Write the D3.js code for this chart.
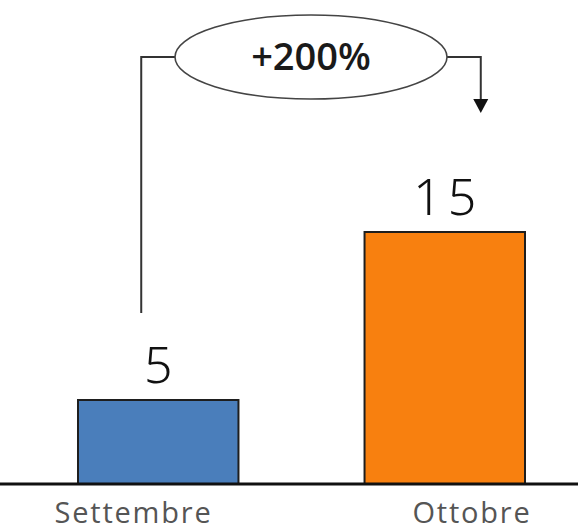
<!DOCTYPE html>
<html>
<head>
<meta charset="utf-8">
<script src="https://cdn.jsdelivr.net/npm/d3@7"></script>
<style>
  html, body { margin: 0; padding: 0; background: #fff; }
  svg { display: block; }
</style>
</head>
<body>
<svg id="chart" width="578" height="530"></svg>
<script>
// Monthly totals
const categories = ["Settembre", "Ottobre"];
const values = [5, 15];
const barColors = ["#4a7ebb", "#f8800f"];

const W = 578, H = 530;
const baseY = 484;

const svg = d3.select("#chart");

const x = d3.scaleBand()
  .domain(categories)
  .range([78, 525])
  .paddingInner(0.44)
  .paddingOuter(0);

const y = d3.scaleLinear()
  .domain([0, 25])
  .range([baseY, 64]);

// Category labels sit in their own, wider slots
const xLabel = d3.scalePoint()
  .domain(categories)
  .range([132.5, 471]);

// Bars
svg.selectAll("rect.bar")
  .data(categories)
  .join("rect")
  .attr("class", "bar")
  .attr("x", d => x(d))
  .attr("y", (d, i) => y(values[i]))
  .attr("width", x.bandwidth())
  .attr("height", (d, i) => y(0) - y(values[i]))
  .attr("fill", (d, i) => barColors[i])
  .attr("stroke", "#1e1e1e")
  .attr("stroke-width", 2);

// Value labels above bars
svg.selectAll("text.value")
  .data(categories)
  .join("text")
  .attr("class", "value")
  .attr("x", d => x(d) + x.bandwidth() / 2 + 3)
  .attr("y", (d, i) => y(values[i]) - 17)
  .attr("text-anchor", "middle")
  .attr("font-family", "'Noto Sans', sans-serif")
  .attr("font-weight", 300)
  .attr("font-size", 50)
  .attr("letter-spacing", 6)
  .attr("fill", "#111")
  .text((d, i) => values[i]);

// Baseline
svg.append("line")
  .attr("x1", 0).attr("x2", W)
  .attr("y1", baseY).attr("y2", baseY)
  .attr("stroke", "#111")
  .attr("stroke-width", 3);

// Category axis labels
svg.selectAll("text.cat")
  .data(categories)
  .join("text")
  .attr("class", "cat")
  .attr("x", d => xLabel(d) + 1)
  .attr("y", 523)
  .attr("text-anchor", "middle")
  .attr("font-family", "'Open Sans', sans-serif")
  .attr("font-size", 29)
  .attr("letter-spacing", 1.8)
  .attr("fill", "#555")
  .text(d => d);

// Growth annotation: bracket from the first bar to the second with an ellipse callout
const change = (values[1] - values[0]) / values[0] * 100;
const cx = 311, cy = 57, rx = 136, ry = 42;
const leftX = x(categories[0]) + x.bandwidth() / 2 - 17;
const rightX = x(categories[1]) + x.bandwidth() / 2 + 36;
const leftBottom = y(values[0]) - 87;
const arrowTip = y(values[1]) - 119;

svg.append("path")
  .attr("d", `M${leftX},${leftBottom} V${cy} H${cx - rx}`)
  .attr("fill", "none")
  .attr("stroke", "#333")
  .attr("stroke-width", 2);

svg.append("path")
  .attr("d", `M${cx + rx},${cy} H${rightX} V${arrowTip - 12}`)
  .attr("fill", "none")
  .attr("stroke", "#333")
  .attr("stroke-width", 2);

svg.append("path")
  .attr("d", `M${rightX - 7.5},${arrowTip - 14} L${rightX + 7.5},${arrowTip - 14} L${rightX},${arrowTip} Z`)
  .attr("fill", "#111");

svg.append("ellipse")
  .attr("cx", cx).attr("cy", cy)
  .attr("rx", rx).attr("ry", ry)
  .attr("fill", "#fff")
  .attr("stroke", "#444")
  .attr("stroke-width", 1.6);

svg.append("text")
  .attr("x", cx)
  .attr("y", 70)
  .attr("text-anchor", "middle")
  .attr("font-family", "'Open Sans', sans-serif")
  .attr("font-weight", 600)
  .attr("font-size", 38)
  .attr("fill", "#1a1a1a")
  .text(`+${Math.round(change)}%`);
</script>
</body>
</html>
